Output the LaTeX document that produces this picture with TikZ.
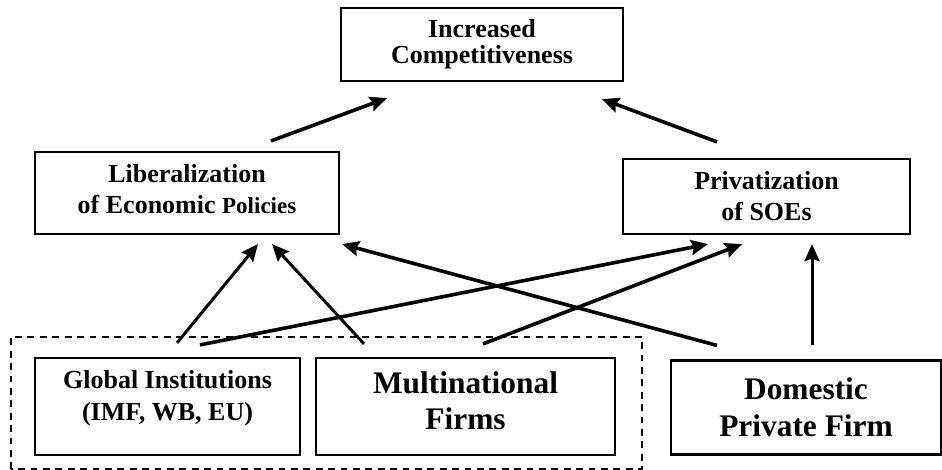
\documentclass[tikz,border=0pt]{standalone}
\usepackage{fontspec}
\setmainfont{Liberation Serif}
\usetikzlibrary{arrows.meta}
\usetikzlibrary{calc}
\tikzset{box/.style = {draw, line width=1.1pt, align=center, inner sep=0pt,
                       font=\bfseries\fontsize{13}{15.5}\selectfont}}
\tikzset{bigbox/.style = {box, font=\bfseries\fontsize{15.7}{18.5}\selectfont}}
\tikzset{arr/.style = {line width=1.5pt, -{Stealth[length=8.5pt, width=7.5pt, inset=1.2pt]}}}
\tikzset{arrthick/.style = {arr, line width=1.8pt}}
\tikzset{group/.style = {line width=0.8pt, dash pattern=on 3.4pt off 2.8pt}}

\begin{document}
\begin{tikzpicture}[x=0.5pt, y=-0.5pt]
      \useasboundingbox (0, 0) rectangle (942, 470);

      \node [box, minimum width=141pt, minimum height=36.5pt,
             font=\bfseries\fontsize{13}{13}\selectfont] (top) at (482, 44.5) {Increased\\Competitiveness};
      \node [box, minimum width=152pt, minimum height=41pt, text depth=4.5pt] (lib) at (187, 193)
            {Liberalization\\of Economic {\fontsize{11.5}{15}\selectfont Policies}};
      \node [box, minimum width=143.5pt, minimum height=37.5pt] (priv) at (766.5, 196.5) {Privatization\\of SOEs};

      \node [box, minimum width=132.5pt, minimum height=48.5pt, text depth=11.4pt,
             font=\bfseries\fontsize{13}{16}\selectfont] (glob) at (167.5, 406.5) {Global Institutions\\(IMF, WB, EU)};
      \node [bigbox, minimum width=149.5pt, minimum height=48.5pt, text depth=5.5pt,
             font=\bfseries\fontsize{15.7}{18}\selectfont] (multi) at (465.5, 406.5) {Multinational\\Firms};
      \node [bigbox, minimum width=135pt, minimum height=47pt] (dom) at (806, 407.5) {Domestic\\Private Firm};

      \draw [group] ($(glob.south west)+(-23, 13)$) rectangle ($(multi.north east)+(26, -20)$);

      \draw [arrthick] ($(lib.north)+(84, -10)$) -- ($(top.south)+(-95, 16)$);
      \draw [arrthick] ($(priv.north)+(-49.5, -16)$) -- ($(top.south)+(120, 17)$);

      \draw [arr] ($(glob.north)+(9.5, -14)$) -- ($(lib.south)+(71, 9)$);
      \draw [arr] ($(multi.north)+(-101.5, -13)$) -- ($(lib.south)+(85, 9)$);
      \draw [arrthick] ($(dom.north)+(-89, -14)$) -- ($(lib.south)+(155, 9)$);

      \draw [arrthick] ($(glob.north)+(32.5, -12)$) -- ($(priv.south)+(-58.5, 9)$);
      \draw [arrthick] ($(multi.north)+(17.5, -13)$) -- ($(priv.south)+(-24.5, 9)$);
      \draw [arr] ($(dom.north)+(6, -14)$) -- ($(priv.south)+(45.5, 9)$);
    \end{tikzpicture}
\end{document}
